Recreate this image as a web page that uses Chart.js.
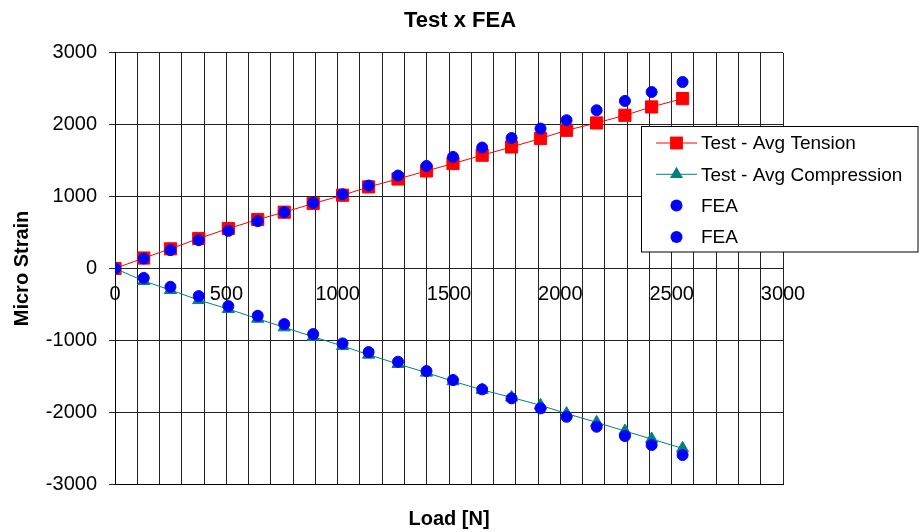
<!DOCTYPE html>
<html>
<head>
<meta charset="utf-8">
<title>Test x FEA</title>
<script src="https://cdn.jsdelivr.net/npm/chart.js@4.4.1/dist/chart.umd.min.js"></script>
<style>
  html, body { margin: 0; padding: 0; background: #fff; }
  canvas { display: block; }
</style>
</head>
<body>
<canvas id="chart" width="920" height="532"></canvas>
<script>
// load steps [N]
var loads = [0, 129, 249, 376, 509, 641, 760, 890, 1022, 1139, 1271, 1399, 1518, 1649, 1781, 1911, 2028, 2163, 2290, 2410, 2549];

// micro strain readings
var tensionTest = [0, 145, 273, 417, 556, 681, 783, 904, 1019, 1135, 1245, 1357, 1460, 1576, 1691, 1808, 1923, 2025, 2132, 2248, 2364];
var compressionTest = [0, -175, -300, -440, -565, -700, -820, -950, -1080, -1200, -1330, -1450, -1570, -1690, -1795, -1905, -2020, -2142, -2263, -2374, -2504];
var feaTension = [0, 138, 255, 394, 523, 658, 783, 912, 1033, 1154, 1293, 1427, 1552, 1683, 1816, 1947, 2063, 2202, 2331, 2456, 2595];
var feaCompression = [0, -132, -255, -385, -524, -658, -774, -913, -1043, -1164, -1298, -1428, -1553, -1683, -1808, -1947, -2064, -2203, -2332, -2458, -2597];

var seriesLabels = ['Test - Avg Tension', 'Test - Avg Compression', 'FEA', 'FEA'];
var xTickValues = [0, 500, 1000, 1500, 2000, 2500, 3000];
var yTickValues = [-3000, -2000, -1000, 0, 1000, 2000, 3000];

var GRID = '#222';
var FONT = "'Liberation Sans', Arial, Helvetica, sans-serif";

Chart.defaults.font.family = FONT;
Chart.defaults.color = '#000';

function pairs(ys) {
  return ys.map(function(y, i) { return { x: loads[i], y: y }; });
}

// small marker drawer used by the legend box
function drawMarker(ctx, style, r, x, y, color) {
  ctx.fillStyle = color;
  ctx.beginPath();
  if (style === 'rect') {
    var s = r * Math.SQRT1_2;
    ctx.rect(x - s, y - s, 2 * s, 2 * s);
  } else if (style === 'triangle') {
    ctx.moveTo(x, y - r);
    ctx.lineTo(x + r * Math.sin(2 * Math.PI / 3), y + r / 2);
    ctx.lineTo(x - r * Math.sin(2 * Math.PI / 3), y + r / 2);
    ctx.closePath();
  } else {
    ctx.arc(x, y, r, 0, Math.PI * 2);
  }
  ctx.fill();
}

var boxLegend = {
  id: 'boxLegend',
  afterDraw: function(chart) {
    var ctx = chart.ctx;
    var left = 641.5, top = 126.5, w = 276.5, h = 125.5;
    ctx.save();
    ctx.fillStyle = '#fff';
    ctx.fillRect(left, top, w, h);
    ctx.strokeStyle = '#000';
    ctx.lineWidth = 1;
    ctx.strokeRect(left, top, w, h);
    ctx.font = '19px ' + FONT;
    ctx.textBaseline = 'middle';
    ctx.textAlign = 'left';
    chart.data.datasets.forEach(function(ds, i) {
      var cy = top + 16.5 + i * 31.3;
      if (ds.showLine) {
        ctx.strokeStyle = ds.borderColor;
        ctx.lineWidth = 1;
        ctx.beginPath();
        ctx.moveTo(656, cy);
        ctx.lineTo(697, cy);
        ctx.stroke();
      }
      drawMarker(ctx, ds.pointStyle, ds.pointRadius + 0.5, 676.5, cy, ds.pointBackgroundColor);
      ctx.fillStyle = '#000';
      ctx.fillText(ds.label, 701, cy + 1);
    });
    ctx.restore();
  }
};

new Chart(document.getElementById('chart'), {
  type: 'scatter',
  data: {
    datasets: [
      {
        label: seriesLabels[0],
        data: pairs(tensionTest),
        showLine: true,
        borderColor: '#ff0000',
        borderWidth: 1,
        pointStyle: 'rect',
        pointRadius: 8.6,
        pointBorderWidth: 1,
        pointBackgroundColor: '#ff0000',
        pointBorderColor: '#ff0000',
        order: 4
      },
      {
        label: seriesLabels[1],
        data: pairs(compressionTest),
        showLine: true,
        borderColor: '#008080',
        borderWidth: 1,
        pointStyle: 'triangle',
        pointRadius: 7,
        pointBorderWidth: 1,
        pointBackgroundColor: '#008080',
        pointBorderColor: '#008080',
        order: 3
      },
      {
        label: seriesLabels[2],
        data: pairs(feaTension),
        showLine: false,
        pointStyle: 'circle',
        pointRadius: 5.5,
        pointBorderWidth: 1,
        pointBackgroundColor: '#0000ff',
        pointBorderColor: '#0000ff',
        order: 2
      },
      {
        label: seriesLabels[3],
        data: pairs(feaCompression),
        showLine: false,
        pointStyle: 'circle',
        pointRadius: 5.5,
        pointBorderWidth: 1,
        pointBackgroundColor: '#0000ff',
        pointBorderColor: '#0000ff',
        order: 1
      }
    ]
  },
  options: {
    responsive: false,
    devicePixelRatio: 1,
    animation: false,
    layout: { padding: 0 },
    plugins: {
      legend: { display: false },
      tooltip: { enabled: false },
      title: {
        display: true,
        text: 'Test x FEA',
        color: '#000',
        font: { size: 22, weight: 'bold' },
        padding: { top: 8, bottom: 18.5 }
      }
    },
    scales: {
      x: {
        type: 'linear',
        position: 'bottom',
        min: xTickValues[0],
        max: xTickValues[xTickValues.length - 1],
        ticks: { stepSize: 100, display: false },
        grid: { color: GRID, drawTicks: false },
        border: { color: '#000' },
        title: {
          display: true,
          text: 'Load [N]',
          color: '#000',
          font: { size: 20, weight: 'bold' },
          padding: { top: 0, bottom: 1 }
        },
        afterFit: function(s) { s.height = 48; }
      },
      // tick labels sitting on the zero line
      xLabels: {
        type: 'linear',
        axis: 'x',
        position: { y: 0 },
        min: xTickValues[0],
        max: xTickValues[xTickValues.length - 1],
        afterBuildTicks: function(s) {
          s.ticks = xTickValues.map(function(v) { return { value: v }; });
        },
        ticks: {
          padding: 14,
          color: '#000',
          font: { size: 20 },
          maxRotation: 0,
          autoSkip: false,
          callback: function(v) { return String(v); }
        },
        grid: { display: false, drawTicks: false },
        border: { display: false }
      },
      y: {
        type: 'linear',
        position: 'left',
        min: yTickValues[0],
        max: yTickValues[yTickValues.length - 1],
        afterBuildTicks: function(s) {
          s.ticks = yTickValues.map(function(v) { return { value: v }; });
        },
        ticks: {
          padding: 12,
          color: '#000',
          font: { size: 20 },
          callback: function(v) { return String(v); }
        },
        grid: { color: GRID, tickLength: 6 },
        border: { color: '#000' },
        title: {
          display: true,
          text: 'Micro Strain',
          color: '#000',
          font: { size: 20, weight: 'bold' },
          padding: { top: 10, bottom: 0 }
        },
        afterFit: function(s) { s.width = 115; }
      },
      // empty strip on the right that leaves room for the legend box
      yRoom: {
        type: 'linear',
        axis: 'y',
        position: 'right',
        min: yTickValues[0],
        max: yTickValues[yTickValues.length - 1],
        ticks: { display: false },
        grid: { display: false, drawTicks: false },
        border: { display: false },
        afterFit: function(s) { s.width = 137; }
      }
    }
  },
  plugins: [boxLegend]
});
</script>
</body>
</html>
